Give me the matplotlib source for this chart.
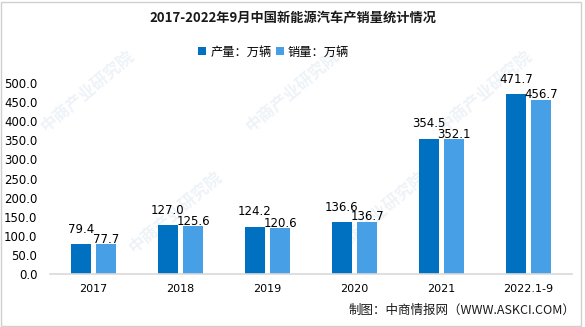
import matplotlib
matplotlib.use("Agg")
import matplotlib.pyplot as plt
from matplotlib.patches import Rectangle
import numpy as np

plt.rcParams['font.family'] = ['Noto Sans CJK SC', 'DejaVu Sans']

categories = ["2017", "2018", "2019", "2020", "2021", "2022.1-9"]
production = [79.4, 127.0, 124.2, 136.6, 354.5, 471.7]
sales = [77.7, 125.6, 120.6, 136.7, 352.1, 456.7]
series_names = ["产量：万辆", "销量：万辆"]
yticks = [0, 50, 100, 150, 200, 250, 300, 350, 400, 450, 500]

c_prod = "#0070C0"
c_sales = "#47A0E6"

W, H = 585, 327
fig = plt.figure(figsize=(W / 100, H / 100), dpi=100)
fig.patch.set_facecolor("white")

# figure frame
fig.add_artist(Rectangle((1 / W, 1 / H), (W - 5) / W, (H - 3) / H, transform=fig.transFigure,
                         fill=False, edgecolor="#D0D0D0", linewidth=1.0))

# faint watermark behind the plot
for (x, y) in [(0.15, 0.72), (0.50, 0.72), (0.83, 0.72),
               (0.30, 0.35), (0.65, 0.35)]:
    fig.text(x, y, "中商产业研究院", fontsize=12, color="#EEF3F8", rotation=40,
             ha="center", va="center", zorder=0, fontweight="bold")

ax = fig.add_axes([50 / W, 1 - 274 / H, 522 / W, 191 / H])
ax.set_facecolor("none")
ax.set_zorder(2)

x = np.arange(len(categories))
bw = 0.23
off = 0.145
b1 = ax.bar(x - off, production, bw, color=c_prod, label=series_names[0], zorder=2)
b2 = ax.bar(x + off, sales, bw, color=c_sales, label=series_names[1], zorder=2)

for xi, v in zip(x, production):
    ax.annotate(f"{v:.1f}", (xi - off, v), xytext=(0, 10.5), textcoords="offset points",
                ha="center", va="center", fontsize=8.5, color="#000000",
                family="DejaVu Sans")
for xi, v in zip(x, sales):
    ax.annotate(f"{v:.1f}", (xi + off, v), xytext=(0, 3.5), textcoords="offset points",
                ha="center", va="center", fontsize=8.5, color="#000000",
                family="DejaVu Sans")

ax.set_xlim(-0.5, len(categories) - 0.5)
ax.set_ylim(0, 500)
ax.set_yticks(yticks)
ax.set_yticklabels([f"{t:.1f}" for t in yticks], fontsize=8.5, family="DejaVu Sans")
ax.set_xticks(x)
ax.set_xticklabels(categories, fontsize=8, family="DejaVu Sans")
ax.tick_params(axis="x", length=0, pad=7)
ax.tick_params(axis="y", length=0, pad=9)
for s in ["top", "right", "left"]:
    ax.spines[s].set_visible(False)
ax.spines["bottom"].set_color("#D9D9D9")
ax.spines["bottom"].set_linewidth(1.2)

fig.text(0.5, 1 - 18 / H, "2017-2022年9月中国新能源汽车产销量统计情况", ha="center", va="center",
         fontsize=9.5, fontweight="bold", color="#1A1A1A")

fig.legend(handles=[b1, b2], labels=series_names, loc="center", bbox_to_anchor=(0.468, 1 - 52 / H),
           ncol=2, frameon=False, fontsize=8.8, handlelength=0.65, handleheight=0.65,
           handletextpad=0.35, columnspacing=0.3, borderpad=0.2)

fig.text(575 / W, 1 - 310 / H, "制图：中商情报网（WWW.ASKCI.COM）", ha="right", va="center",
         fontsize=9, color="#1A1A1A")

fig.savefig("out.png", dpi=100, facecolor="white")
